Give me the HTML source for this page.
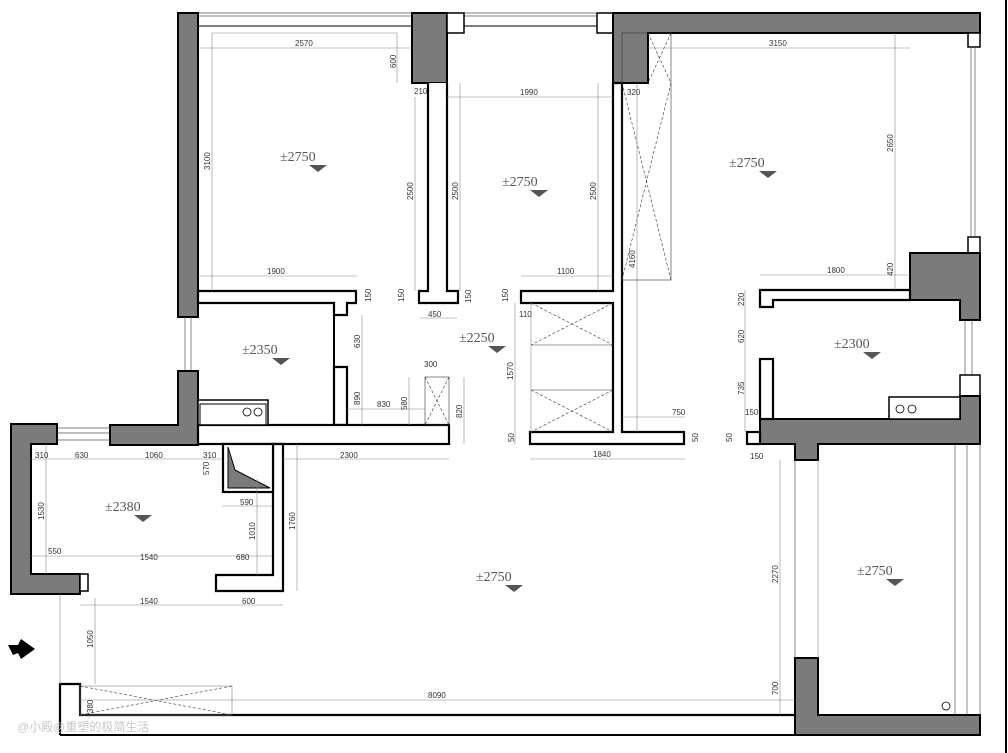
<!DOCTYPE html>
<html><head><meta charset="utf-8"><style>
html,body{margin:0;padding:0;background:#fff;}
svg{display:block;}
.w{fill:#7b7b7b;stroke:#000;stroke-width:2;}
.o{fill:#fff;stroke:#000;stroke-width:2.2;}
.t{fill:none;stroke:#555;stroke-width:0.7;}
.d{fill:none;stroke:#888;stroke-width:0.6;}
.x{fill:none;stroke:#333;stroke-width:0.6;stroke-dasharray:3,2;}
.n{font-family:"Liberation Sans",sans-serif;font-size:8px;fill:#333;}
.e{font-family:"Liberation Serif",serif;font-size:14px;fill:#555;}
</style></head><body>
<svg width="1008" height="753" viewBox="0 0 1008 753" xmlns="http://www.w3.org/2000/svg">
<line x1="1006" y1="0" x2="1006" y2="753" stroke="#000" stroke-width="2"/>
<!-- top windows -->
<line class="t" x1="198" y1="13" x2="412" y2="13"/><line class="t" x1="198" y1="16" x2="412" y2="16"/><line class="t" x1="198" y1="26" x2="412" y2="26" style="stroke:#000;stroke-width:1"/>
<line class="t" x1="464" y1="13" x2="597" y2="13"/><line class="t" x1="464" y1="16" x2="597" y2="16"/><line class="t" x1="464" y1="26" x2="597" y2="26" style="stroke:#000;stroke-width:1"/>
<!-- gray walls -->
<rect class="w" x="178" y="13" width="20" height="304"/>
<rect class="w" x="412" y="13" width="35" height="70"/>
<rect class="o" x="447" y="13" width="17" height="20" style="stroke-width:1.5"/>
<rect class="o" x="597" y="13" width="16" height="20" style="stroke-width:1.5"/>
<path class="w" d="M613,13 H980 V33 H648 V83 H613 Z"/>
<line class="t" x1="185" y1="317" x2="185" y2="371"/><line class="t" x1="191" y1="317" x2="191" y2="371"/>
<path class="w" d="M178,371 H198 V445 H110 V425 H178 Z"/>
<path class="w" d="M11,424 H57 V444 H31 V574 H80 V594 H11 Z"/>
<line class="t" x1="57" y1="428" x2="110" y2="428"/><line class="t" x1="57" y1="433" x2="110" y2="433"/><line class="t" x1="57" y1="440" x2="110" y2="440"/>
<!-- right window -->
<rect class="o" x="968" y="33" width="12" height="14" style="stroke-width:1.5"/>
<rect class="o" x="968" y="237" width="12" height="16" style="stroke-width:1.5"/>
<line class="t" x1="971" y1="47" x2="971" y2="237"/><line class="t" x1="975" y1="47" x2="975" y2="237"/>
<path class="w" d="M910,253 H980 V320 H960 V300 H910 Z"/>
<line class="t" x1="965" y1="320" x2="965" y2="375"/><line class="t" x1="972" y1="320" x2="972" y2="375"/>
<rect class="o" x="960" y="375" width="20" height="21" style="stroke-width:1.5"/>
<path class="w" d="M960,396 H980 V444 H818 V460 H795 V444 H760 V419 H960 Z"/>
<path class="w" d="M795,658 H818 V715 H980 V735 H795 Z"/>
<line class="t" x1="955" y1="444" x2="955" y2="715"/><line class="t" x1="967" y1="444" x2="967" y2="715"/><line class="t" x1="980" y1="444" x2="980" y2="715"/>
<line class="d" x1="818" y1="460" x2="818" y2="658"/><line class="t" x1="795" y1="460" x2="795" y2="658"/>
<!-- white walls -->
<path class="o" d="M198,291 H356 V303 H347 V315 H334 V303 H198 Z"/>
<line x1="334" y1="303" x2="334" y2="425" stroke="#000" stroke-width="2"/>
<path class="o" d="M334,367 H347 V425 H334 Z"/>
<rect class="o" x="198" y="425" width="251" height="19"/>
<path class="o" d="M428,83 V291 H419 V303 H458 V291 H447 V83"/>
<path class="o" d="M521,291 H613 V83 H622 V432 H684 V444 H530 V432 H613 V303 H521 Z"/>
<path class="o" d="M760,290 H910 V300 H773 V307 H760 Z"/>
<rect class="o" x="760" y="359" width="13" height="60"/>
<rect class="o" x="747" y="432" width="13" height="12"/>
<!-- kitchen counters -->
<rect class="o" x="198" y="400" width="70" height="25" style="stroke-width:1.5"/>
<rect x="200" y="404" width="66" height="21" fill="none" stroke="#000" stroke-width="1"/>
<circle cx="247" cy="412" r="4" fill="none" stroke="#000" stroke-width="0.8"/><circle cx="258" cy="412" r="4" fill="none" stroke="#000" stroke-width="0.8"/>
<rect class="o" x="889" y="397" width="71" height="22" style="stroke-width:1.5"/>
<circle cx="900" cy="409" r="4" fill="none" stroke="#000" stroke-width="0.8"/><circle cx="912" cy="409" r="4" fill="none" stroke="#000" stroke-width="0.8"/>
<!-- 2380 room walls -->
<path class="o" d="M273,444 H283 V591 H216 V575 H273 Z"/>
<line x1="283" y1="444" x2="449" y2="444" stroke="#000" stroke-width="2"/>
<rect class="o" x="223" y="444" width="50" height="48"/>
<path d="M228,447 L235,470 L270,488 L228,488 Z" fill="#7b7b7b" stroke="#000" stroke-width="1"/>
<rect class="o" x="80" y="574" width="8" height="17" style="stroke-width:1.5"/>
<!-- bottom -->
<path class="o" d="M60,735 V684 H80 V715 H795" style="fill:none"/>
<line x1="60" y1="735" x2="795" y2="735" stroke="#000" stroke-width="2"/>
<!-- closets with X -->
<rect class="d" x="622" y="33" width="49" height="247" style="stroke:#333"/>
<line class="x" x1="648" y1="33" x2="671" y2="83"/><line class="x" x1="671" y1="33" x2="648" y2="83"/>
<line class="x" x1="622" y1="83" x2="671" y2="280"/><line class="x" x1="671" y1="83" x2="622" y2="280"/>
<line class="d" x1="531" y1="345" x2="613" y2="345" style="stroke:#333"/><line class="d" x1="531" y1="390" x2="613" y2="390" style="stroke:#333"/>
<line class="x" x1="531" y1="303" x2="613" y2="345"/><line class="x" x1="613" y1="303" x2="531" y2="345"/>
<line class="x" x1="531" y1="390" x2="613" y2="432"/><line class="x" x1="613" y1="390" x2="531" y2="432"/>
<line class="d" x1="531" y1="303" x2="531" y2="432"/>
<rect class="d" x="425" y="377" width="24" height="48" style="stroke:#333"/>
<line class="x" x1="425" y1="377" x2="449" y2="425"/><line class="x" x1="449" y1="377" x2="425" y2="425"/>
<rect class="d" x="80" y="686" width="152" height="29"/>
<line class="x" x1="80" y1="686" x2="232" y2="715"/><line class="x" x1="232" y1="686" x2="80" y2="715"/>
<!-- dimension lines -->
<g class="d">
<line x1="198" y1="48" x2="412" y2="48"/><line x1="212" y1="33" x2="397" y2="33"/>
<line x1="397" y1="33" x2="397" y2="83"/><line x1="212" y1="33" x2="212" y2="291"/>
<line x1="198" y1="276" x2="357" y2="276"/>
<line x1="415" y1="97" x2="415" y2="291"/><line x1="460" y1="83" x2="460" y2="291"/>
<line x1="447" y1="97" x2="613" y2="97"/><line x1="598" y1="83" x2="598" y2="291"/>
<line x1="521" y1="276" x2="613" y2="276"/>
<line x1="648" y1="48" x2="910" y2="48"/><line x1="895" y1="33" x2="895" y2="290"/>
<line x1="760" y1="275" x2="910" y2="275"/><line x1="637" y1="83" x2="637" y2="432"/>
<line x1="622" y1="417" x2="685" y2="417"/><line x1="530" y1="459" x2="685" y2="459"/>
<line x1="745" y1="290" x2="745" y2="432"/><line x1="420" y1="318" x2="457" y2="318"/>
<line x1="283" y1="459" x2="449" y2="459"/><line x1="297" y1="444" x2="297" y2="591"/>
<line x1="31" y1="459" x2="222" y2="459"/><line x1="46" y1="444" x2="46" y2="574"/>
<line x1="31" y1="556" x2="272" y2="556"/><line x1="80" y1="605" x2="283" y2="605"/>
<line x1="95" y1="598" x2="95" y2="684"/><line x1="80" y1="700" x2="795" y2="700"/>
<line x1="780" y1="460" x2="780" y2="715"/><line x1="347" y1="409" x2="425" y2="409"/>
<line x1="362" y1="315" x2="362" y2="425"/><line x1="409" y1="377" x2="409" y2="425"/>
<line x1="464" y1="377" x2="464" y2="444"/><line x1="515" y1="303" x2="515" y2="444"/>
<line x1="257" y1="479" x2="257" y2="575"/><line x1="222" y1="506" x2="272" y2="506"/>
<line x1="60" y1="594" x2="60" y2="684"/>
</g>
<!-- dimension texts -->
<g class="n">
<text x="295" y="46">2570</text><text x="520" y="95">1990</text><text x="769" y="46">3150</text>
<text x="267" y="274">1900</text><text x="557" y="274">1100</text><text x="827" y="273">1800</text>
<text x="414" y="94">210</text><text x="627" y="95">320</text><text x="428" y="317">450</text>
<text x="424" y="367">300</text><text x="377" y="407">830</text><text x="672" y="415">750</text>
<text x="593" y="457">1840</text><text x="340" y="458">2300</text>
<text x="35" y="458">310</text><text x="75" y="458">630</text><text x="145" y="458">1060</text><text x="203" y="458">310</text>
<text x="240" y="505">590</text><text x="48" y="554">550</text><text x="140" y="560">1540</text><text x="236" y="560">680</text>
<text x="140" y="604">1540</text><text x="242" y="604">600</text><text x="428" y="698">8090</text>
<text x="519" y="317">110</text>
<text transform="translate(210,170) rotate(-90)">3100</text>
<text transform="translate(396,68) rotate(-90)">600</text>
<text transform="translate(413,200) rotate(-90)">2500</text>
<text transform="translate(458,200) rotate(-90)">2500</text>
<text transform="translate(596,200) rotate(-90)">2500</text>
<text transform="translate(893,152) rotate(-90)">2650</text>
<text transform="translate(893,276) rotate(-90)">420</text>
<text transform="translate(635,268) rotate(-90)">4160</text>
<text transform="translate(744,306) rotate(-90)">220</text>
<text transform="translate(744,343) rotate(-90)">620</text>
<text transform="translate(744,395) rotate(-90)">735</text>
<text transform="translate(360,348) rotate(-90)">630</text>
<text transform="translate(360,405) rotate(-90)">890</text>
<text transform="translate(407,410) rotate(-90)">580</text>
<text transform="translate(462,418) rotate(-90)">820</text>
<text transform="translate(513,380) rotate(-90)">1570</text>
<text transform="translate(295,530) rotate(-90)">1760</text>
<text transform="translate(44,520) rotate(-90)">1530</text>
<text transform="translate(255,540) rotate(-90)">1010</text>
<text transform="translate(209,475) rotate(-90)">570</text>
<text transform="translate(93,648) rotate(-90)">1050</text>
<text transform="translate(93,713) rotate(-90)">380</text>
<text transform="translate(778,583) rotate(-90)">2270</text>
<text transform="translate(778,695) rotate(-90)">700</text>
<text transform="translate(404,302) rotate(-90)">150</text>
<text transform="translate(471,303) rotate(-90)">150</text>
<text transform="translate(508,302) rotate(-90)">150</text>
<text transform="translate(514,442) rotate(-90)">50</text>
<text transform="translate(698,442) rotate(-90)">50</text>
<text transform="translate(732,442) rotate(-90)">50</text>
<text transform="translate(371,302) rotate(-90)">150</text>
<text x="745" y="415">150</text><text x="750" y="459">150</text>
</g>
<!-- elevations -->
<g class="e">
<text x="280" y="161">±2750</text><text x="502" y="186">±2750</text><text x="729" y="167">±2750</text>
<text x="242" y="354">±2350</text><text x="459" y="342">±2250</text><text x="834" y="348">±2300</text>
<text x="105" y="511">±2380</text><text x="476" y="581">±2750</text><text x="857" y="575">±2750</text>
</g>
<g fill="#555">
<path d="M309,165 h18 l-9,7 z"/><path d="M530,190 h18 l-9,7 z"/><path d="M759,171 h18 l-9,7 z"/>
<path d="M272,358 h18 l-9,7 z"/><path d="M488,346 h18 l-9,7 z"/><path d="M863,352 h18 l-9,7 z"/>
<path d="M134,515 h18 l-9,7 z"/><path d="M505,585 h18 l-9,7 z"/><path d="M886,579 h18 l-9,7 z"/>
</g>
<circle cx="946" cy="706" r="4" fill="none" stroke="#000" stroke-width="0.8"/>
<!-- entry arrow -->
<path d="M8,645 L18,645 L21,639 L35,649 L21,659 L18,653 L13,655 Z" fill="#000"/>
<!-- watermark -->
<text x="17" y="731" font-family="Liberation Sans,'Noto Sans CJK SC',sans-serif" font-size="12" fill="#c8c8c8">@小殿@重塑的极简生活</text>
</svg>
</body></html>
